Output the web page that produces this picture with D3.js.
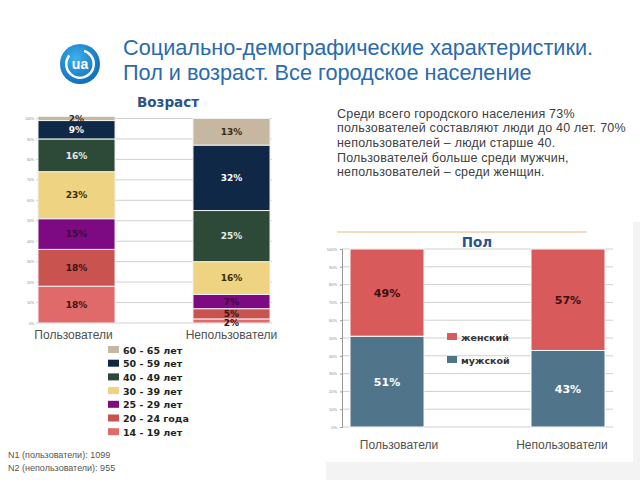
<!DOCTYPE html>
<html><head><meta charset="utf-8">
<script src="https://cdn.jsdelivr.net/npm/d3@7/dist/d3.min.js"></script>
<style>body{margin:0;background:#fff;}svg{display:block;}</style>
</head><body>
<script>
// ---- data ----
const titleLines = ["Социально-демографические характеристики.", "Пол и возраст. Все городское население"];
const groups = ["Пользователи", "Непользователи"];
const ageBands = ["14 - 19 лет", "20 - 24 года", "25 - 29 лет", "30 - 39 лет", "40 - 49 лет", "50 - 59 лет", "60 - 65 лет"];
const ageUsers = [18, 18, 15, 23, 16, 9, 2];
const ageNonUsers = [2, 5, 7, 16, 25, 32, 13];
const sexes = ["мужской", "женский"];
const sexUsers = [51, 49];
const sexNonUsers = [43, 57];
const pctTicks = [0, 10, 20, 30, 40, 50, 60, 70, 80, 90, 100];
const note = ["Среди всего городского населения 73%", "пользователей составляют люди до 40 лет. 70%", "непользователей – люди старше 40.", "Пользователей больше среди мужчин,", "непользователей – среди женщин."];
const footnotes = ["N1 (пользователи): 1099", "N2 (непользователи): 955"];

const ageColors = ["#e06a6a", "#c8534f", "#7d0a82", "#edd382", "#2c4a37", "#0e2845", "#c6b8a0"];
const ageLabelColors = ["#3a1010", "#3a1010", "#3a0a3d", "#3a2a00", "#e8eee8", "#ffffff", "#3a2a10"];
const sexColors = ["#50758a", "#d85a5b"];
const sexLabelColors = ["#ffffff", "#3a1010"];

const svg = d3.select("body").append("svg").attr("width", 640).attr("height", 480);

// background panels
svg.append("rect").attr("x", 326).attr("y", 222).attr("width", 314).attr("height", 258).attr("fill", "#f3f3f3");
svg.append("rect").attr("x", 326).attr("y", 222).attr("width", 307).attr("height", 240).attr("fill", "#ffffff");

// logo
const logo = svg.append("g").attr("transform", "translate(80,64)");
const lg = svg.append("defs").append("radialGradient").attr("id", "lg").attr("cx", "40%").attr("cy", "35%").attr("r", "70%");
lg.append("stop").attr("offset", "0%").attr("stop-color", "#3fb0ee");
lg.append("stop").attr("offset", "100%").attr("stop-color", "#0b6bb8");
logo.append("circle").attr("r", 20).attr("fill", "url(#lg)");
logo.append("path").attr("d", d3.arc()({innerRadius: 12.5, outerRadius: 15, startAngle: 0.3, endAngle: 2 * Math.PI - 0.9})).attr("fill", "#fff");
logo.append("text").attr("text-anchor", "middle").attr("y", 5).attr("font-family", "Liberation Sans, Arial").attr("font-weight", "bold").attr("font-size", 14).attr("fill", "#fff").text("ua");

// title
svg.append("g").selectAll("text").data(titleLines).join("text")
  .attr("x", 123).attr("y", (d, i) => 55 + i * 25)
  .attr("font-family", "Liberation Sans, Arial").attr("font-size", 21.7).attr("fill", "#2a6aad").text(d => d);

// ---- left chart: age ----
const yA = d3.scaleLinear().domain([0, 100]).range([323, 118.5]);
const xA = d3.scaleBand().domain(groups).range([38, 270]).paddingInner(0.503).paddingOuter(0);
svg.append("text").attr("x", 168).attr("y", 107).attr("text-anchor", "middle")
  .attr("font-family", "DejaVu Sans, Verdana").attr("font-weight", "bold").attr("font-size", 13.5).attr("fill", "#2a5487").text("Возраст");

svg.append("g").selectAll("line").data(pctTicks).join("line")
  .attr("x1", 36).attr("x2", 272).attr("y1", d => yA(d)).attr("y2", d => yA(d))
  .attr("stroke", "#d0d0d0").attr("stroke-width", 1);
const axA = svg.append("g").attr("transform", "translate(35,0)")
  .call(d3.axisLeft(yA).tickValues(pctTicks).tickFormat(d => d + "%").tickSize(0).tickPadding(1));
axA.select(".domain").remove();
axA.selectAll("text").attr("font-size", 3.5).attr("fill", "#888");

function stackOf(vals) { let c = 0; return vals.map(v => { const s = {y0: c, y1: c + v, v}; c += v; return s; }); }
const ageData = [ageUsers, ageNonUsers];
groups.forEach((g, gi) => {
  const st = stackOf(ageData[gi]);
  const gg = svg.append("g");
  gg.selectAll("rect").data(st).join("rect")
    .attr("x", xA(g)).attr("width", xA.bandwidth())
    .attr("y", d => yA(d.y1)).attr("height", d => yA(d.y0) - yA(d.y1))
    .attr("fill", (d, i) => ageColors[i]).attr("stroke", "#f0f0f0").attr("stroke-width", 1);
  gg.selectAll("text").data(st).join("text")
    .attr("x", xA(g) + xA.bandwidth() / 2)
    .attr("y", d => (yA(d.y0) + yA(d.y1)) / 2 + 3.2 + (d.v <= 2 && d.y0 === 0 ? 1.5 : 0))
    .attr("text-anchor", "middle").attr("font-family", "DejaVu Sans, Verdana").attr("font-weight", "bold")
    .attr("font-size", 9).attr("fill", (d, i) => ageLabelColors[i]).text(d => d.v + "%");
});
svg.append("g").selectAll("text").data(groups).join("text")
  .attr("x", (d, i) => xA(d) + xA.bandwidth() / 2 + (i === 0 ? -3 : 0)).attr("y", 339).attr("text-anchor", "middle")
  .attr("font-family", "Liberation Sans, Arial").attr("font-size", 12).attr("fill", "#505050").text(d => d);

// age legend (top = oldest)
const legA = svg.append("g");
const legAItems = ageBands.map((b, i) => ({b, c: ageColors[i]})).reverse();
legA.selectAll("rect").data(legAItems).join("rect")
  .attr("x", 108).attr("y", (d, i) => 346 + i * 13.7).attr("width", 11).attr("height", 7).attr("fill", d => d.c);
legA.selectAll("text").data(legAItems).join("text")
  .attr("x", 123).attr("y", (d, i) => 353.5 + i * 13.7)
  .attr("font-family", "DejaVu Sans, Verdana").attr("font-weight", "bold").attr("font-size", 9.5).attr("fill", "#222").text(d => d.b);

svg.append("g").selectAll("text").data(footnotes).join("text")
  .attr("x", 8).attr("y", (d, i) => 458 + i * 13)
  .attr("font-family", "Liberation Sans, Arial").attr("font-size", 9).attr("fill", "#555").text(d => d);

// note text
svg.append("g").selectAll("text").data(note).join("text")
  .attr("x", 337).attr("y", (d, i) => 117.5 + i * 14.7)
  .attr("font-family", "Liberation Sans, Arial").attr("font-size", 12.5).attr("letter-spacing", 0.2)
  .attr("fill", "#404040").text(d => d);

// ---- right chart: sex ----
svg.append("line").attr("x1", 337).attr("x2", 587).attr("y1", 232).attr("y2", 232).attr("stroke", "#f2b27e").attr("stroke-width", 1.2);
svg.append("text").attr("x", 477).attr("y", 247).attr("text-anchor", "middle")
  .attr("font-family", "DejaVu Sans, Verdana").attr("font-weight", "bold").attr("font-size", 13.5).attr("fill", "#2a5487").text("Пол");

const yS = d3.scaleLinear().domain([0, 100]).range([427, 249]);
const xS = d3.scaleBand().domain(groups).range([350, 605]).paddingInner(0.591).paddingOuter(0);
svg.append("g").selectAll("line").data(pctTicks).join("line")
  .attr("x1", 342).attr("x2", 613).attr("y1", d => yS(d)).attr("y2", d => yS(d))
  .attr("stroke", "#cfcfcf").attr("stroke-width", 1);
const axS = svg.append("g").attr("transform", "translate(342,0)")
  .call(d3.axisLeft(yS).tickValues(pctTicks).tickFormat(d => d + "%").tickSize(2).tickPadding(3));
axS.select(".domain").attr("stroke", "#999");
axS.selectAll(".tick line").attr("stroke", "#999");
axS.selectAll("text").attr("font-size", 4).attr("fill", "#888");

const sexData = [sexUsers, sexNonUsers];
groups.forEach((g, gi) => {
  const st = stackOf(sexData[gi]);
  const gg = svg.append("g");
  gg.selectAll("rect").data(st).join("rect")
    .attr("x", xS(g)).attr("width", xS.bandwidth())
    .attr("y", d => yS(d.y1)).attr("height", d => yS(d.y0) - yS(d.y1))
    .attr("fill", (d, i) => sexColors[i]).attr("stroke", "#ffffff").attr("stroke-width", 1);
  gg.selectAll("text").data(st).join("text")
    .attr("x", xS(g) + xS.bandwidth() / 2)
    .attr("y", d => (yS(d.y0) + yS(d.y1)) / 2 + 4)
    .attr("text-anchor", "middle").attr("font-family", "DejaVu Sans, Verdana").attr("font-weight", "bold")
    .attr("font-size", 11).attr("fill", (d, i) => sexLabelColors[i]).text(d => d.v + "%");
});
svg.append("g").selectAll("text").data(groups).join("text")
  .attr("x", (d, i) => xS(d) + xS.bandwidth() / 2 + (i === 0 ? 12 : -6)).attr("y", 449).attr("text-anchor", "middle")
  .attr("font-family", "Liberation Sans, Arial").attr("font-size", 12).attr("fill", "#505050").text(d => d);

const legS = svg.append("g");
const legSItems = sexes.map((s, i) => ({s, c: sexColors[i]})).reverse();
legS.selectAll("rect").data(legSItems).join("rect")
  .attr("x", 447).attr("y", (d, i) => 333 + i * 23).attr("width", 10).attr("height", 7).attr("fill", d => d.c);
legS.selectAll("text").data(legSItems).join("text")
  .attr("x", 461).attr("y", (d, i) => 340.5 + i * 23)
  .attr("font-family", "DejaVu Sans, Verdana").attr("font-weight", "bold").attr("font-size", 9.5).attr("fill", "#333").text(d => d.s);
</script>
</body></html>
